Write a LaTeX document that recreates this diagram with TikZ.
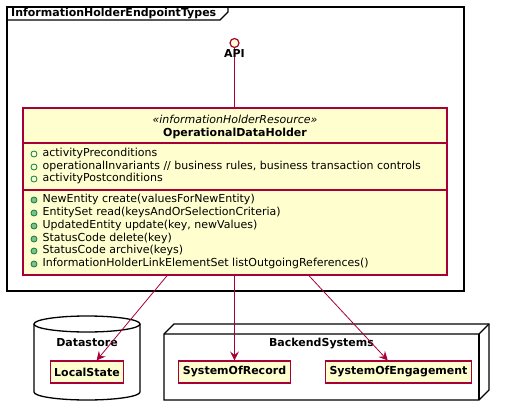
\documentclass[tikz,border=0pt]{standalone}
\usepackage{fontspec}
\setmainfont{DejaVu Sans}
\usepackage{xcolor}
\usepackage{tikz}
\usetikzlibrary{shapes,arrows.meta,positioning,calc}

\definecolor{umlred}{HTML}{A80036}
\definecolor{umlfill}{HTML}{FEFECE}
\definecolor{umlgreen}{HTML}{038048}
\definecolor{umlmeth}{HTML}{84BE84}

\begin{document}
\begin{tikzpicture}[x=1pt, y=-1pt, font=\fontsize{11}{13}\selectfont,
  cls/.style={draw=umlred, fill=umlfill, line width=1.5pt, minimum width=424pt, minimum height=167pt, inner sep=0pt},
  comp/.style={draw=umlred, fill=umlfill, line width=1.2pt, inner xsep=4pt, inner ysep=0pt, minimum height=22pt, font=\fontsize{11}{13}\selectfont\bfseries},
  dep/.style={draw=umlred, line width=0.8pt, -{Stealth[length=9pt,width=9pt,inset=3.5pt]}},
  member/.style={anchor=west, inner sep=0pt, text height=8pt, text depth=2.5pt},
  attr/.style={circle, draw=umlgreen, line width=0.8pt, minimum size=6pt, inner sep=0pt},
  meth/.style={attr, fill=umlmeth},
  bold/.style={font=\fontsize{11}{13}\selectfont\bfseries},
  outline/.style={draw=black, line width=1.3pt}]
\useasboundingbox (0,0) rectangle (505,406);

% frame
\draw[outline] (7,7) rectangle (464,291);
\draw[outline] (7,20) -- (220,20) -- (228,12) -- (228,7);
\node[bold, anchor=west, inner sep=0pt] (ftitle) at (11,13.5) {InformationHolderEndpointTypes};

% class
\node[cls] (odh) at (235,191.5) {};
\draw[umlred, line width=1.2pt] (odh.west |- 0,143) -- (odh.east |- 0,143);
\draw[umlred, line width=1.2pt] (odh.west |- 0,190) -- (odh.east |- 0,190);
\node (stereo) at (235,119) {\itshape «informationHolderResource»};
\node[bold, below of=stereo, node distance=14pt] (cname) {OperationalDataHolder};

\node[attr] (a1) at (34,154) {};
\node[member, right=5pt of a1] {activityPreconditions};
\node[attr] (a2) at (34,167) {};
\node[member, right=5pt of a2] {operationalInvariants // business rules, business transaction controls};
\node[attr] (a3) at (34,179) {};
\node[member, right=5pt of a3] {activityPostconditions};

\node[meth] (m1) at (34,200) {};
\node[member, right=5pt of m1] {NewEntity create(valuesForNewEntity)};
\node[meth] (m2) at (34,213) {};
\node[member, right=5pt of m2] {EntitySet read(keysAndOrSelectionCriteria)};
\node[meth] (m3) at (34,226) {};
\node[member, right=5pt of m3] {UpdatedEntity update(key, newValues)};
\node[meth] (m4) at (34,239) {};
\node[member, right=5pt of m4] {StatusCode delete(key)};
\node[meth] (m5) at (34,251) {};
\node[member, right=5pt of m5] {StatusCode archive(keys)};
\node[meth] (m6) at (34,264) {};
\node[member, right=5pt of m6] {InformationHolderLinkElementSet listOutgoingReferences()};

% interface
\node[circle, draw=umlred, fill=umlfill, line width=1.2pt, minimum size=9pt, inner sep=0pt] (api) at (234.5,43) {};
\draw[umlred, line width=0.8pt] (api) -- (api |- odh.north);
\node[bold, below of=api, node distance=10pt] (apilbl) {API};

% datastore
\draw[outline, fill=white] (34,324) -- (34,392) arc[start angle=180, end angle=0, x radius=53, y radius=8] -- (140,324);
\draw[outline, fill=white] (87,324) ellipse[x radius=53, y radius=8];
\node[bold] (dslbl) at (87,343) {Datastore};
\node[comp] (local) at (87,372) {LocalState};

% backend node
\draw[outline, fill=white] (164,334) -- (174,324) -- (489,324) -- (489,390) -- (479,400) -- (164,400) -- cycle;
\draw[outline] (164,334) -- (479,334) -- (489,324);
\draw[outline] (479,334) -- (479,400);
\node[bold] (bslbl) at (321.5,344) {BackendSystems};
\node[comp] (sor) at (234.5,372) {SystemOfRecord};
\node[comp] (soe) at (398.5,372) {SystemOfEngagement};

\draw[dep] (odh.south -| 167,0) -- (local);
\draw[dep] (odh.south -| sor) -- (sor);
\draw[dep] (odh.south -| 309,0) -- (soe);
\end{tikzpicture}
\end{document}
